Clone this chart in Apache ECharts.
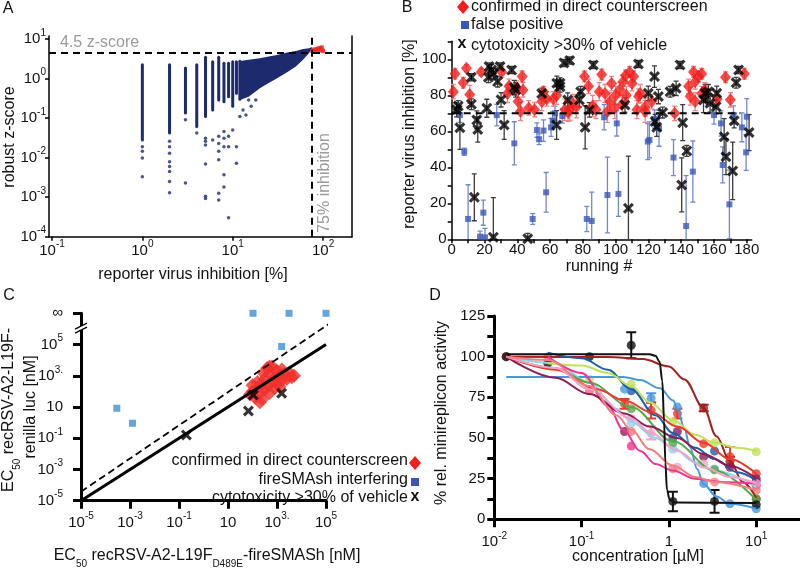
<!DOCTYPE html>
<html><head><meta charset="utf-8">
<script src="https://cdn.jsdelivr.net/npm/echarts@6.0.0/dist/echarts.min.js"></script>
<style>html,body{margin:0;padding:0;background:#fff}#chart{width:800px;height:568px}</style>
</head><body><div id="chart"></div>
<script>
// ================= Panel A: primary screen (inhibition %, robust z-score) =================
const aStripeX      = [1, 2, 3, 4, 5, 6, 7, 8, 9, 10, 11, 12];
const aStripeTop    = [2.24, 2.24, 1.86, 2.24, 3.47, 2.69, 3.47, 2.45, 2.45, 2.69, 2.69, 2.75];
const aStripeBottom = [0.028, 0.042, 0.135, 0.062, 0.11, 0.16, 0.29, 0.26, 0.35, 0.2, 0.43, 0.3];
const aCloudX       = [12, 15, 20, 25, 30, 40, 50, 60, 70, 76];
const aCloudTop     = [2.82, 3.02, 3.31, 3.63, 3.89, 4.57, 5.01, 5.62, 5.89, 6.3];
const aCloudBottom  = [0.29, 0.35, 0.575, 0.78, 0.98, 1.45, 2.04, 3.02, 4.47, 5.89];
const aOutX = [1,1,1,1, 2,2,2,2,2,2,2,2, 3,3, 4, 5,5,5,5,5,5, 6, 7,7,7,7,7,7, 8,8,8,8,8, 9,9,9, 10, 11,11, 12,13,14,15,16,18];
const aOutZ = [0.019,0.0145,0.0098,0.0033, 0.026,0.019,0.0129,0.0079,0.006,0.0045,0.0025,0.0013, 0.091,0.0023, 0.042,
               0.031,0.026,0.021,0.0069,0.00105,0.00093, 0.028, 0.035,0.023,0.0145,0.0089,0.00126,0.00085,
               0.046,0.031,0.019,0.0037,0.0018, 0.035,0.019,0.0003, 0.05, 0.019,0.0072, 0.11,0.16,0.12,0.29,0.2,0.29];
const aHitX = [76, 78, 80, 82, 85, 86, 88, 90, 92, 93, 95, 97, 99, 100];
const aHitZ = [5.0, 5.3, 5.1, 5.6, 5.4, 5.0, 5.8, 5.5, 6.0, 5.2, 5.7, 6.2, 5.2, 5.0];
const aZThreshold = 4.5;
const aInhThreshold = 75;

// ================= Panel B: hit confirmation =================
const bRedX = [1,2,7,9,11,18,30.5,34,35,39.5,40.5,43,43.5,42,47,50.5,55,56,58,62,64,69,71,72,74,76,81,83.5,86,88,90,91.5,93.5,95,96.5,97.5,99.5,100,102.5,104,104.5,106,106.5,108.5,110,111,113,114,115,118,118,122,136,144.5,145.5,147.5,148.5,148.5,150.5,152.5,152.5,154.5,162,167,170,178.5];
const bRedY = [82,92,87,95,80.5,93,93,81,85,84,76.5,90.5,83,71,73,72,76.5,82,78,78,80,72,70.5,72,75.5,73.5,90.5,85,74,72,82,91.5,81,71,76.5,86.5,73,80,83,75,87.5,91,80,93,86.5,90.5,72,79.5,81,73.5,71,76.5,70,85,79.5,93,87.5,76.5,90.5,92,81,83,78,90,77.5,92];
const bRedErr = [4,3,3,2,5,2,3,5,4,4,5,3,4,5,4,4,5,3,4,4,5,6,5,6,5,6,3,4,6,5,5,3,5,6,5,4,6,5,4,5,4,3,5,3,4,3,5,4,5,5,6,4,4,4,5,3,4,5,3,3,4,4,4,3,4,3];
const bBlueX = [5,7.7,10,17.3,19.3,20.3,27.5,38.2,49.4,52,53.3,56,57.6,60.6,61.6,63,67.5,82.4,85.4,93,95,100.7,101.7,119.6,120.6,123.7,126.5,135.3,143,147.1,160,164.3,165.3,169.4,171.9,177,180,179.6];
const bBlueY = [69,48.7,11.3,1.5,14.8,1.1,69,53.3,11.3,60.7,55.6,60.4,26.1,62.2,65.9,70,68.5,11.3,10.2,67.8,24.6,64.4,25.2,54.3,55.2,66.9,61.7,45.4,7.4,37.6,69,64.4,41.3,19.4,69.1,62.2,68.1,48.3];
const bBlueErr = [4,2,19,3,7,5,6,12,3,4,3,6,11,5,5,4,4,7,16,7,21,7,12.5,10,10,5,10,10,28,17,5,7,10,19,5,8,10,10];
const bBlackX = [3,4,5,12,12,13.8,15.3,15.9,21.4,22.8,22.4,24.4,25.4,25.4,28,29.5,30.1,32,36.6,38.2,39,46.4,54.9,64,64.1,66.1,66.1,70.8,68.5,72,77.9,78.7,81.4,84,86.4,105.7,107.8,113.9,123.7,119.9,126.1,124.1,125.1,128.7,133.2,136.9,139.3,140.9,140.3,143.4,153.6,154.6,156.6,157.6,161.7,161.3,166.2,167.3,171.4,172.3,173.5,175,181.4];
const bBlackY = [72,74,62,75,90,23.3,66.3,61,72.8,96,90,94,92,1.2,87.6,96,77.5,63.5,94,84.3,83,0.3,81,63.5,86.7,86.7,84.8,77.4,98,99.3,77.4,82,62.2,71.9,96.9,74.6,17.2,97.4,90.4,81.1,79.3,65.4,62.2,70.4,82,83.9,96.9,64.8,30.2,49.1,77.4,81.1,82,75.6,81.1,73.7,57,45.9,38,65.9,87,94.1,59.3];
const bBlackErr = [4,3,12,3,2,13,5,7,5,2,3,3,3,22,3,2,4,8,2,4,4,3,3,8,4,3,3,4,2,2,4,3,12,4,2,4,29,2,6,4,4,4,5,3,3,4,2,10,15,3,7,5,4,5,4,4,10,10,16,4,3,2,10];
const bCutoff = 70;
const bCutoffX = [0, 176];

// ================= Panel C: EC50 comparison (nM) =================
const cRedX = [79,100,126,158,200,200,251,316,316,398,398,501,631,631,794,794,1000,1000,1259,1585,1585,1995,2512,3162,3981,158,251,501,1259,100,5012,501,282];
const cRedY = [63,100,40,158,20,79,316,126,631,3162,251,1259,398,3981,794,158,1995,316,1000,501,2512,1259,631,1585,794,398,32,79,200,251,1000,3981,1585];
const cBlueX = [0.00029, 0.00126, 1550, 105, 3100, 100000];
const cBlueY = [8.3, 0.91, 75000, Infinity, Infinity, Infinity];
const cBlackX = [0.2, 68, 107, 1550];
const cBlackY = [0.16, 5.5, 59, 76];
const cIdentX = [1e-5, 1e5];
const cDashX = [1e-5, 126000];
const cDashY = [3.8e-5, 2.0e6];
const cBreakY = 1.12e6;

// ================= Panel D: minireplicon dose response (µM, %) =================
const dColors = ['#a3211f','#1b5ea6','#4a98dc','#8fd3f0','#c3df5c','#53a847','#ec3a2c','#ee3592','#8c1d55','#f4a3c8','#f27f7f','#111111'];
const dPointConc = [
  [0.0137, 2.5, 5, 10],
  [0.37, 1.11, 3.33, 10],
  [0.31, 0.625, 1.25, 2.5, 5, 10],
  [0.37, 1.11, 3.33, 10],
  [0.123, 0.37, 1.11, 3.33, 10],
  [0.37, 1.11, 3.33, 10],
  [0.31, 0.625, 1.25, 2.5, 5, 10],
  [0.37, 10],
  [0.31, 1.25, 2.5, 5, 10],
  [0.123, 0.37, 0.625, 1.25, 2.5, 10],
  [0.0137, 0.041, 0.123, 0.37, 1.11, 3.33, 10],
  [0.0137, 0.041, 0.123, 0.37, 1.11, 3.33, 10]
];
const dPointVal = [
  [100, 68.5, 35.5, 12.5],
  [79, 50, 42, 23.5],
  [80, 74.5, 69, 22, 9.5, 6.5],
  [59, 43, 31, 20],
  [86, 83, 60, 47, 41.5],
  [68, 47, 30.5, 12.5],
  [71, 67, 65, 46.5, 38.5, 28],
  [45, 21],
  [54, 54, 38.5, 32, 25],
  [79, 62, 53, 32, 34, 22],
  [100, 100, 79, 54, 31, 23, 18],
  [100, 96, 100, 107, 11, 11, 9]
];
const dPointErr = [
  [0, 2, 3, 0],
  [0, 0, 0, 0],
  [0, 3, 0, 0, 0, 0],
  [0, 0, 0, 0],
  [0, 0, 0, 0, 0],
  [0, 0, 0, 0],
  [3, 5, 3, 0, 6, 0],
  [0, 0],
  [0, 0, 0, 0, 0],
  [0, 0, 4, 0, 0, 0],
  [0, 0, 0, 0, 0, 0, 0],
  [0, 0, 0, 8, 6, 7, 0]
];
const dFitConc = [
  [0.0137,0.2,0.5,1,1.5,2.5,3.5,5,7,10],
  [0.041,0.1,0.2,0.37,0.7,1.11,2,3.33,6,10],
  [0.0137,0.3,0.47,0.79,1.12,1.25,1.5,1.74,2.1,2.5,3.5,5,10],
  [0.0137,0.05,0.123,0.25,0.37,0.7,1.11,2,3.33,10],
  [0.041,0.1,0.2,0.37,0.6,1.11,2,3.33,6,10],
  [0.0137,0.05,0.123,0.37,1.11,3.33,10],
  [0.0137,0.05,0.15,0.31,0.625,1.25,2.5,5,10],
  [0.041,0.1,0.2,0.3,0.47,0.7,1.1,2,4,10],
  [0.0137,0.05,0.123,0.31,0.6,1.25,2.5,5,10],
  [0.0137,0.05,0.123,0.37,0.625,1.25,2.5,5,10],
  [0.0137,0.041,0.123,0.25,0.37,0.6,1.11,2,3.33,10],
  [0.0137,0.6,0.7,0.78,0.84,0.88,0.91,0.95,1.02,1.2,10]
];
const dFitVal = [
  [100,99.8,98.5,94,86,68.5,51,36,23,13],
  [102.5,99,92,80,64,53,44,37,29,24],
  [87.5,87.5,85.6,80.5,73,68,56,44.6,31,21.5,14,9.5,6.5],
  [100,96,84,68,60,50,44,35,30,20],
  [96,94.5,90,82,72,61,52,47,44,42],
  [100,93,84,69,48,30,12],
  [100,92,80,73,66,57,47,37,28],
  [100,90,70,55,42,34,30,25,23,22],
  [100,87,77,65,57,50,40,33,25],
  [100,93,80,62,53,42,32,26,22],
  [100,98,82,64,55,43,33,26,23,18],
  [101.5,101.5,100.5,97,85,60,35,18,12,10.3,10]
];

// ================= drawing =================
const FONT = '"Liberation Sans", Arial, Helvetica, sans-serif';
const NAVY = '#1d2a6e', RED = '#ee2a26';
const lg = v => Math.log10(v);
const C_INF = 7; // log position used for the "∞" row
const lgC = v => (v === Infinity ? C_INF : lg(v));

const rich = {
  b: {fontSize: 15, fontFamily: FONT, color: '#111', lineHeight: 22},
  s: {fontSize: 10, fontFamily: FONT, color: '#111', lineHeight: 12, verticalAlign: 'top'}
};
const p10 = e => '{b|10}{s|' + e + '}';
function mapFmt(map) { return v => { const k = Math.round(v * 100) / 100; return (String(k) in map) ? map[String(k)] : ''; }; }

const XMARK = 'path://M2,0 L5,3 L8,0 L10,2 L7,5 L10,8 L8,10 L5,7 L2,10 L0,8 L3,5 L0,2 Z';

function errRender(color, cap, lw) {
  return function (params, api) {
    const x = api.value(0), y = api.value(1), e = api.value(2);
    if (!e) return null;
    const t = api.coord([x, y + e]), b = api.coord([x, y - e]);
    const st = {stroke: color, lineWidth: lw};
    return {type: 'group', children: [
      {type: 'line', shape: {x1: t[0], y1: t[1], x2: b[0], y2: b[1]}, style: st},
      {type: 'line', shape: {x1: t[0] - cap / 2, y1: t[1], x2: t[0] + cap / 2, y2: t[1]}, style: st},
      {type: 'line', shape: {x1: b[0] - cap / 2, y1: b[1], x2: b[0] + cap / 2, y2: b[1]}, style: st}
    ]};
  };
}
const zip3 = (xs, ys, es, fx) => xs.map((x, i) => [fx ? fx(x) : x, ys[i], es[i]]);

const axBase = (w) => ({
  type: 'value', splitLine: {show: false},
  axisLine: {show: true, onZero: false, lineStyle: {color: '#000', width: w}},
  axisTick: {show: true, inside: false, lineStyle: {color: '#000', width: w}},
  axisLabel: {color: '#111', fontSize: 15, fontFamily: FONT, rich: rich}
});
function ax(w, extra) {
  const a = axBase(w);
  for (const k in extra) {
    if (typeof extra[k] === 'object' && a[k] && !Array.isArray(extra[k])) a[k] = Object.assign({}, a[k], extra[k]);
    else a[k] = extra[k];
  }
  return a;
}

const aXmap = {'-1': p10('-1'), '0': p10('0'), '1': p10('1'), '2': p10('2')};
const aYmap = {'-4': p10('-4'), '-3': p10('-3'), '-2': p10('-2'), '-1': p10('-1'), '0': p10('0'), '1': p10('1')};
const cXmap = {'-5': p10('-5'), '-3': p10('-3'), '-1': p10('-1'), '1': '{b|10}', '3': p10('3.'), '5': p10('5')};
const cYmap = Object.assign({}, cXmap, {'7': '{b|∞}'});
const dXmap = {'-2': p10('-2'), '-1': p10('-1'), '0': '{b|1}', '1': p10('1')};

const xAxis = [
  ax(1.5, {gridIndex: 0, min: -1.033, max: 2.32,
    axisTick: {length: 4, customValues: [-1, 0, 1, 2]},
    axisLabel: {margin: 3, customValues: [-1, 0, 1, 2], formatter: mapFmt(aXmap)}}),
  ax(1.5, {gridIndex: 1, min: 0, max: 183, interval: 10,
    axisTick: {length: 4, customValues: [0,10,20,30,40,50,60,70,80,90,100,110,120,130,140,150,160,170,180]},
    axisLabel: {margin: 3, customValues: [0,20,40,60,80,100,120,140,160,180], formatter: v => String(v)}}),
  ax(3, {gridIndex: 2, min: -5, max: 5, interval: 2,
    axisTick: {length: 8},
    axisLabel: {margin: 11, formatter: mapFmt(cXmap)}}),
  ax(3, {gridIndex: 3, min: -2, max: 1.5, interval: 1,
    axisTick: {length: 8, customValues: [-2, -1, 0, 1]},
    axisLabel: {margin: 12, customValues: [-2, -1, 0, 1], formatter: mapFmt(dXmap)}})
];
const yAxis = [
  ax(1.5, {gridIndex: 0, min: -4, max: 1.08, interval: 1,
    axisTick: {length: 4, customValues: [-4, -3, -2, -1, 0, 1]},
    axisLabel: {margin: 3, customValues: [-4, -3, -2, -1, 0, 1], formatter: mapFmt(aYmap)}}),
  ax(1.5, {gridIndex: 1, min: 0, max: 110, interval: 10,
    axisTick: {length: 4, customValues: [0,10,20,30,40,50,60,70,80,90,100,110]},
    axisLabel: {margin: 5, customValues: [0, 20, 40, 60, 80, 100], formatter: v => String(v)}}),
  ax(3, {gridIndex: 2, min: -5, max: 7, interval: 2,
    axisTick: {length: 8},
    axisLabel: {margin: 18, formatter: mapFmt(cYmap)}}),
  ax(3, {gridIndex: 3, min: 0, max: 125, interval: 12.5,
    axisTick: {length: 7},
    axisLabel: {margin: 9, formatter: v => (v % 25 === 0 ? String(v) : '')}}),
  ax(1.5, {gridIndex: 0, position: 'right', min: -4, max: 1.08,
    axisTick: {show: false}, axisLabel: {show: false}})
];

const series = [];
// ---- A ----
series.push({type: 'custom', xAxisIndex: 0, yAxisIndex: 0, clip: true, silent: true,
  data: [[lg(aCloudX[0]), lg(aCloudTop[0])]],
  renderItem: (params, api) => {
    const pts = [];
    for (let i = 0; i < aCloudX.length; i++) pts.push(api.coord([lg(aCloudX[i]), lg(aCloudTop[i])]));
    for (let i = aCloudX.length - 1; i >= 0; i--) pts.push(api.coord([lg(aCloudX[i]), lg(aCloudBottom[i])]));
    return {type: 'polygon', shape: {points: pts}, style: {fill: NAVY}};
  }});
series.push({type: 'custom', xAxisIndex: 0, yAxisIndex: 0, clip: true, silent: true,
  data: aStripeX.map((x, i) => [lg(x), lg(aStripeTop[i]), lg(aStripeBottom[i])]),
  renderItem: (params, api) => {
    const t = api.coord([api.value(0), api.value(1)]), b = api.coord([api.value(0), api.value(2)]);
    return {type: 'line', shape: {x1: t[0], y1: t[1], x2: b[0], y2: b[1]}, style: {stroke: NAVY, lineWidth: 3, lineCap: 'round'}};
  }});
series.push({type: 'scatter', xAxisIndex: 0, yAxisIndex: 0, symbol: 'circle', symbolSize: 3.5,
  itemStyle: {color: NAVY}, silent: true,
  data: aOutX.map((x, i) => [lg(x), lg(aOutZ[i])]),
  markLine: {silent: true, symbol: ['none', 'none'], label: {show: false}, animation: false,
    lineStyle: {color: '#000', width: 2, type: [7, 5]},
    data: [{yAxis: lg(aZThreshold)}, {xAxis: lg(aInhThreshold)}]}});
series.push({type: 'scatter', xAxisIndex: 0, yAxisIndex: 0, symbol: 'rect', symbolSize: 4,
  itemStyle: {color: RED}, silent: true, data: aHitX.map((x, i) => [lg(x), lg(aHitZ[i])])});

// ---- B ----
series.push({type: 'line', xAxisIndex: 1, yAxisIndex: 1, symbol: 'none', silent: true,
  lineStyle: {color: '#000', width: 2, type: [7, 5]}, data: bCutoffX.map(x => [x, bCutoff])});
series.push({type: 'custom', xAxisIndex: 1, yAxisIndex: 1, clip: true, silent: true,
  renderItem: errRender('#7486cf', 5, 1.3), data: zip3(bBlueX, bBlueY, bBlueErr)});
series.push({type: 'custom', xAxisIndex: 1, yAxisIndex: 1, clip: true, silent: true,
  renderItem: errRender('#f28383', 5, 1.3), data: zip3(bRedX, bRedY, bRedErr)});
series.push({type: 'custom', xAxisIndex: 1, yAxisIndex: 1, clip: true, silent: true,
  renderItem: errRender('#3a3a3a', 5, 1.3), data: zip3(bBlackX, bBlackY, bBlackErr)});
series.push({type: 'scatter', xAxisIndex: 1, yAxisIndex: 1, symbol: 'rect', symbolSize: 6,
  itemStyle: {color: '#3b57b5'}, silent: true, data: bBlueX.map((x, i) => [x, bBlueY[i]])});
series.push({type: 'scatter', xAxisIndex: 1, yAxisIndex: 1, symbol: 'diamond', symbolSize: [11, 13],
  itemStyle: {color: '#f01e1c'}, silent: true, data: bRedX.map((x, i) => [x, bRedY[i]])});
series.push({type: 'scatter', xAxisIndex: 1, yAxisIndex: 1, symbol: XMARK, symbolSize: 11,
  itemStyle: {color: '#000'}, silent: true, data: bBlackX.map((x, i) => [x, bBlackY[i]])});

// ---- C ----
series.push({type: 'line', xAxisIndex: 2, yAxisIndex: 2, symbol: 'none', silent: true,
  lineStyle: {color: '#000', width: 3}, data: cIdentX.map(x => [lg(x), lg(x)])});
series.push({type: 'line', xAxisIndex: 2, yAxisIndex: 2, symbol: 'none', silent: true,
  lineStyle: {color: '#000', width: 1.8, type: [7, 4]}, data: cDashX.map((x, i) => [lg(x), lg(cDashY[i])])});
series.push({type: 'scatter', xAxisIndex: 2, yAxisIndex: 2, symbol: 'diamond', symbolSize: 14,
  itemStyle: {color: '#f0302a'}, silent: true, data: cRedX.map((x, i) => [lg(x), lg(cRedY[i])])});
series.push({type: 'scatter', xAxisIndex: 2, yAxisIndex: 2, symbol: 'rect', symbolSize: 7,
  itemStyle: {color: '#3d8fd6'}, silent: true, data: cBlueX.map((x, i) => [lgC(x), lgC(cBlueY[i])])});
series.push({type: 'scatter', xAxisIndex: 2, yAxisIndex: 2, symbol: XMARK, symbolSize: 11,
  itemStyle: {color: '#000'}, silent: true, data: cBlackX.map((x, i) => [lg(x), lg(cBlackY[i])])});
series.push({type: 'custom', xAxisIndex: 2, yAxisIndex: 2, clip: false, silent: true, z: 5,
  data: [[-5, lg(cBreakY)]],
  renderItem: (params, api) => {
    const p = api.coord([api.value(0), api.value(1)]);
    const x = p[0], y = p[1];
    return {type: 'group', children: [
      {type: 'polygon', shape: {points: [[x - 6, y + 1], [x + 6, y - 5], [x + 6, y - 1], [x - 6, y + 5]]}, style: {fill: '#fff'}},
      {type: 'line', shape: {x1: x - 6, y1: y + 1, x2: x + 6, y2: y - 5}, style: {stroke: '#000', lineWidth: 1.2}},
      {type: 'line', shape: {x1: x - 6, y1: y + 5, x2: x + 6, y2: y - 1}, style: {stroke: '#000', lineWidth: 1.2}}
    ]};
  }});

// ---- D ----
dColors.forEach((col, k) => {
  series.push({type: 'line', xAxisIndex: 3, yAxisIndex: 3, symbol: 'none', silent: true,
    smooth: 0.35, smoothMonotone: 'x', lineStyle: {color: col, width: 2},
    data: dFitConc[k].map((c, i) => [lg(c), dFitVal[k][i]])});
});
dColors.forEach((col, k) => {
  series.push({type: 'custom', xAxisIndex: 3, yAxisIndex: 3, clip: true, silent: true,
    renderItem: errRender(col, 10, 2), data: zip3(dPointConc[k], dPointVal[k], dPointErr[k], lg)});
  series.push({type: 'scatter', xAxisIndex: 3, yAxisIndex: 3, symbol: 'circle', symbolSize: 9, silent: true,
    itemStyle: {color: col}, data: dPointConc[k].map((c, i) => [lg(c), dPointVal[k][i]])});
});

// ---- texts ----
const TF = '16px ' + FONT;
const T = (text, x, y, o) => Object.assign({type: 'text', x: x, y: y, silent: true, z: 10,
  style: Object.assign({text: text, fill: '#111', font: TF, textAlign: 'center', textVerticalAlign: 'middle'}, (o && o.style) || {})},
  o && o.rotation ? {rotation: o.rotation} : {});
const R90 = Math.PI / 2;
const subRich = {
  n: {fontSize: 16, fontFamily: FONT, fill: '#111', color: '#111', lineHeight: 26},
  sub: {fontSize: 10, fontFamily: FONT, fill: '#111', color: '#111', lineHeight: 10, verticalAlign: 'bottom'}
};
const graphic = [
  T('A', 8, 9),
  T('B', 407, 8),
  T('C', 9, 296),
  T('D', 435, 296),
  // A
  T('4.5 z-score', 60, 43, {style: {fill: '#9a9a9a', textAlign: 'left'}}),
  T('75% inhibition', 325, 183, {rotation: R90, style: {fill: '#9a9a9a'}}),
  T('reporter virus inhibition [%]', 193, 275),
  T('robust z-score', 10, 137, {rotation: R90}),
  // B
  T('running #', 599, 267),
  T('reporter virus inhibition [%]', 410, 134, {rotation: R90}),
  {type: 'polygon', silent: true, shape: {points: [[463, 0], [469, 7], [463, 14], [457, 7]]}, style: {fill: '#f01e1c'}},
  T('confirmed in direct counterscreen', 471, 7, {style: {textAlign: 'left'}}),
  {type: 'rect', silent: true, shape: {x: 461, y: 21, width: 8, height: 8}, style: {fill: '#3b57b5'}},
  T('false positive', 471, 25, {style: {textAlign: 'left'}}),
  T('x', 462, 44, {style: {font: 'bold 16px ' + FONT}}),
  T('cytotoxicity >30% of vehicle', 471, 46, {style: {textAlign: 'left'}}),
  // C
  {type: 'text', x: 9, y: 410, rotation: R90, silent: true,
    style: {text: '{n|EC}{sub|50}{n| recRSV-A2-L19F-}', rich: subRich, textAlign: 'center', textVerticalAlign: 'middle'}},
  T('renilla luc [nM]', 31, 407, {rotation: R90}),
  {type: 'text', x: 207, y: 556, silent: true,
    style: {text: '{n|EC}{sub|50}{n| recRSV-A2-L19F}{sub|D489E}{n|-fireSMASh [nM]}', rich: subRich, textAlign: 'center', textVerticalAlign: 'middle'}},
  T('confirmed in direct counterscreen', 408, 461, {style: {textAlign: 'right'}}),
  {type: 'polygon', silent: true, shape: {points: [[415, 456], [421, 463], [415, 470], [409, 463]]}, style: {fill: '#f01e1c'}},
  T('fireSMAsh interfering', 408, 480, {style: {textAlign: 'right'}}),
  {type: 'rect', silent: true, shape: {x: 411, y: 478, width: 8, height: 8}, style: {fill: '#3b57b5'}},
  T('cytotoxicity >30% of vehicle', 408, 497.5, {style: {textAlign: 'right'}}),
  T('x', 415, 497, {style: {font: 'bold 16px ' + FONT}}),
  // D
  T('concentration [µM]', 638, 557),
  T('% rel. minireplicon activity', 442, 413, {rotation: R90})
];

const chart = echarts.init(document.getElementById('chart'), null, {renderer: 'canvas'});
chart.setOption({
  animation: false,
  backgroundColor: '#fff',
  textStyle: {fontFamily: FONT},
  grid: [
    {left: 49, top: 36, width: 303, height: 200.7},
    {left: 451.7, top: 41.3, width: 300, height: 198},
    {left: 81, top: 313.3, width: 245, height: 187.4},
    {left: 494.3, top: 316, width: 305.6, height: 203.3}
  ],
  xAxis: xAxis,
  yAxis: yAxis,
  series: series,
  graphic: graphic
});
</script></body></html>
